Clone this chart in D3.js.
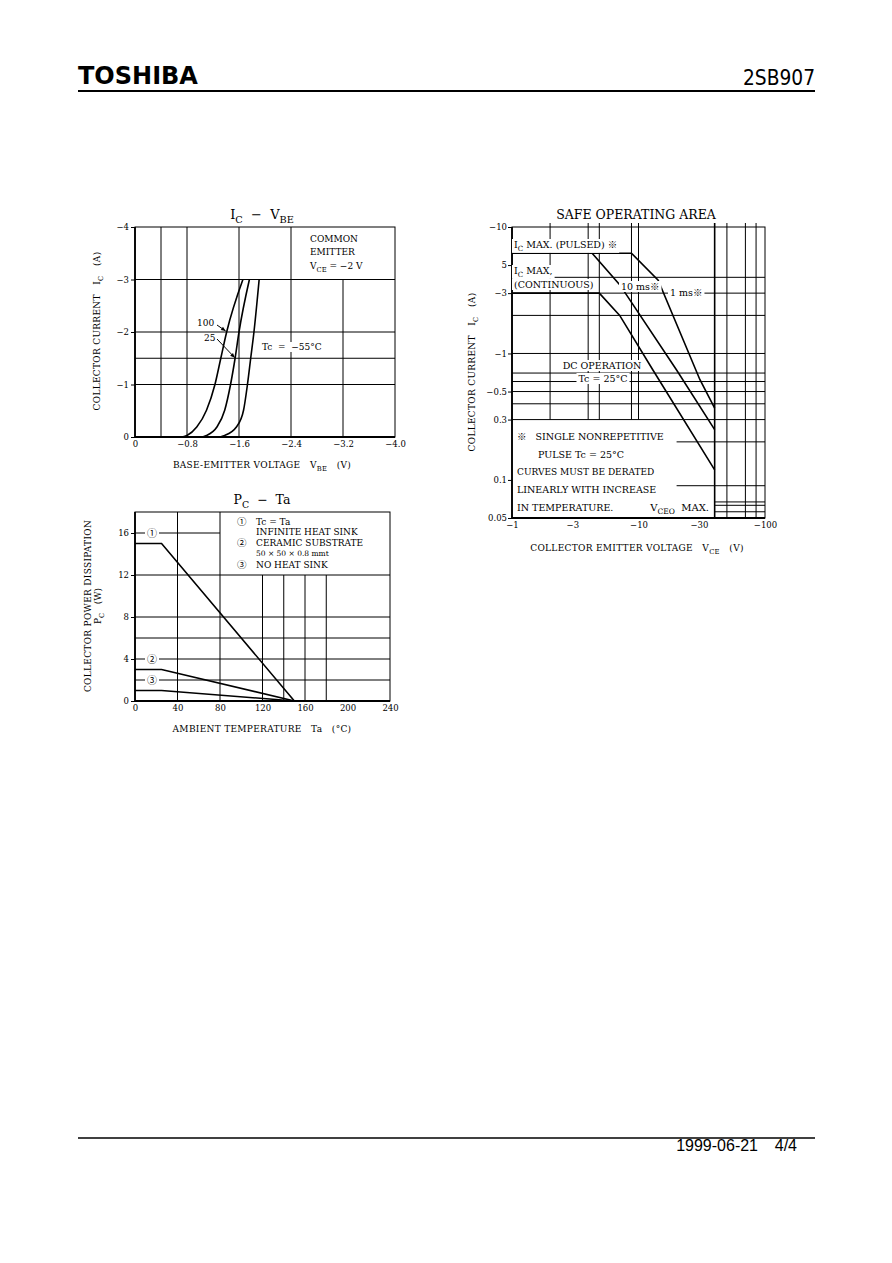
<!DOCTYPE html>
<html>
<head>
<meta charset="utf-8">
<script src="https://cdn.jsdelivr.net/npm/d3@7"></script>
<style>
  body { margin: 0; background: #fff; }
  svg text { font-family: "DejaVu Serif", "Liberation Serif", "Noto Sans CJK JP", serif; fill: #000; white-space: pre; }
  .grid line { stroke: #000; stroke-width: 1; }
  .axis path { display: none; }
  .axis line { stroke: #000; stroke-width: 1; }
  .axis text { font-size: 8.5px; }
  .curve { fill: none; stroke: #000; stroke-width: 1.6; }
</style>
</head>
<body>
<svg id="page" width="892" height="1263"></svg>
<script>
// ---- Ic - Vbe ----
const vbeTicks = [0, -0.8, -1.6, -2.4, -3.2, -4.0]
const vbeLabels = ['0', '−0.8', '−1.6', '−2.4', '−3.2', '−4.0']
const icTicks = [0, -1, -2, -3, -4]
const icLabels = ['0', '−1', '−2', '−3', '−4']
const vbeGrid = [-0.4, -0.8, -1.6, -2.4]
const vbeGridLow = [-3.2]
const icGrid = [-1, -1.5, -2, -3]
// [Vbe (V), Ic (A)]
const ic100 = [[0, 0], [-0.72, 0], [-0.80, -0.03], [-0.95, -0.19], [-1.10, -0.51], [-1.23, -1.0], [-1.32, -1.5], [-1.41, -2.0], [-1.66, -3.0]]
const ic25 = [[0, 0], [-1.0, 0], [-1.10, -0.03], [-1.26, -0.19], [-1.38, -0.51], [-1.47, -1.0], [-1.54, -1.5], [-1.60, -2.0], [-1.76, -3.0]]
const icM55 = [[0, 0], [-1.26, 0], [-1.38, -0.03], [-1.56, -0.19], [-1.67, -0.51], [-1.73, -1.0], [-1.78, -1.5], [-1.83, -2.0], [-1.91, -3.0]]

// ---- Pc - Ta ----
const taTicks = [0, 40, 80, 120, 160, 200, 240]
const pcTicks = [0, 4, 8, 12, 16]
const taGrid = [40, 80]
const taGridLow = [120, 140, 160, 180]
const pcGrid = [2, 4, 6, 8, 12]
const pcGridShort = [16]
// [Ta (°C), Pc (W)]
const pcInfinite = [[0, 15], [25, 15], [150, 0]]
const pcCeramic = [[0, 3], [25, 3], [150, 0]]
const pcNoSink = [[0, 1], [25, 1], [150, 0]]

// ---- Safe operating area ----
const vceTicks = [1, 3, 10, 30, 100]
const vceLabels = ['−1', '−3', '−10', '−30', '−100']
const icSoaTicks = [10, 5, 3, 1, 0.5, 0.3, 0.1, 0.05]
const icSoaLabels = ['−10', '5', '−3', '−1', '−0.5', '0.3', '0.1', '0.05']
const vceGridFull = [40, 50, 70, 85]
const vceGridUpper = [2, 4, 4.9, 8.8, 10]
const icSoaGridFull = [4, 3, 2, 1, 0.7, 0.6, 0.5, 0.4, 0.3]
const icSoaGridRight = [0.2, 0.09]
const icSoaGridCorner = [0.067, 0.063, 0.056]
// [|Vce| (V), |Ic| (A)]
const soa1ms = [[1, 6.2], [8.8, 6.2], [14.3, 3.8], [30.6, 0.62], [40, 0.37]]
const soa10ms = [[4.3, 6.2], [7.1, 3.5], [20, 0.74], [40, 0.25]]
const soaDC = [[1, 3], [4.9, 3], [7.1, 2.0], [13, 0.74], [40, 0.12]]

const svg = d3.select('#page')

// text with optional subscripts: parts = ['I', {sub: 'C'}, ' (A)']
function addText(g, x, y, parts, o = {}) {
  const size = o.size || 9
  const t = g.append('text')
    .attr('x', x).attr('y', y)
    .attr('font-size', size)
    .attr('text-anchor', o.anchor || 'start')
  if (o.ls) t.attr('letter-spacing', o.ls)
  let shift = 0
  parts.forEach(p => {
    const s = t.append('tspan')
    if (typeof p === 'string') {
      if (shift) s.attr('dy', -shift)
      s.text(p)
      shift = 0
    } else {
      const d = size * 0.3
      s.attr('dy', d - shift).attr('font-size', size * 0.75).text(p.sub)
      shift = d
    }
  })
  if (o.bg) {
    const b = t.node().getBBox()
    g.insert('rect', () => t.node())
      .attr('x', b.x - 2).attr('y', b.y)
      .attr('width', b.width + 4).attr('height', b.height)
      .attr('fill', '#fff')
  }
  return t
}

function frame(g, x0, x1, y0, y1) {
  g.append('rect').attr('x', x0).attr('y', y0).attr('width', x1 - x0).attr('height', y1 - y0)
    .attr('fill', 'none').attr('stroke', '#000').attr('stroke-width', 1)
  g.append('path').attr('d', `M${x0},${y0}V${y1}H${x1}`)
    .attr('fill', 'none').attr('stroke', '#000').attr('stroke-width', 1.8)
}

// ---------- header / footer ----------
svg.append('text').attr('x', 78).attr('y', 84)
  .style('font-family', '"DejaVu Sans", sans-serif').style('font-weight', 'bold')
  .attr('font-size', 24).text('TOSHIBA')
svg.append('text').attr('x', 743).attr('y', 85)
  .style('font-family', '"DejaVu Sans Condensed", "DejaVu Sans", sans-serif')
  .attr('font-size', 22).attr('textLength', 72).attr('lengthAdjust', 'spacingAndGlyphs').text('2SB907')
svg.append('line').attr('x1', 78).attr('x2', 815).attr('y1', 91).attr('y2', 91)
  .attr('stroke', '#000').attr('stroke-width', 2)
svg.append('line').attr('x1', 78).attr('x2', 815).attr('y1', 1138).attr('y2', 1138)
  .attr('stroke', '#000').attr('stroke-width', 1.5)
svg.append('text').attr('x', 758).attr('y', 1151).attr('text-anchor', 'end')
  .style('font-family', '"Liberation Sans", sans-serif').attr('font-size', 16).text('1999-06-21')
svg.append('text').attr('x', 797).attr('y', 1151).attr('text-anchor', 'end')
  .style('font-family', '"Liberation Sans", sans-serif').attr('font-size', 16).text('4/4')

// ---------- Ic - Vbe ----------
{
  const g = svg.append('g')
  const x = d3.scaleLinear().domain([0, -4]).range([135, 395])
  const y = d3.scaleLinear().domain([0, -4]).range([437, 227])
  const grid = g.append('g').attr('class', 'grid')
  grid.selectAll('.vx').data(vbeGrid).join('line')
    .attr('x1', d => x(d)).attr('x2', d => x(d)).attr('y1', y(-4)).attr('y2', y(0))
  grid.selectAll('.vl').data(vbeGridLow).join('line')
    .attr('x1', d => x(d)).attr('x2', d => x(d)).attr('y1', y(-3)).attr('y2', y(0))
  grid.selectAll('.hy').data(icGrid).join('line')
    .attr('x1', x(0)).attr('x2', x(-4)).attr('y1', d => y(d)).attr('y2', d => y(d))
  frame(g, x(0), x(-4), y(-4), y(0))

  g.append('g').attr('class', 'axis').attr('transform', `translate(${x(0)},0)`)
    .call(d3.axisLeft(y).tickValues(icTicks).tickSize(4).tickPadding(2).tickFormat((d, i) => icLabels[i]))
  g.append('g').attr('class', 'axis').attr('transform', `translate(0,${y(0)})`)
    .call(d3.axisBottom(x).tickValues(vbeTicks).tickSize(0).tickPadding(4).tickFormat((d, i) => vbeLabels[i]))

  const line = d3.line().x(d => x(d[0])).y(d => y(d[1])).curve(d3.curveMonotoneX)
  ;[ic100, ic25, icM55].forEach(s => g.append('path').attr('class', 'curve').attr('d', line(s)))

  addText(g, 262, 219, ['I', { sub: 'C' }, '  −  V', { sub: 'BE' }], { size: 13, anchor: 'middle' })
  addText(g, 310, 242, ['COMMON'], { size: 9 })
  addText(g, 310, 255, ['EMITTER'], { size: 9 })
  addText(g, 310, 269, ['V', { sub: 'CE' }, ' = −2 V'], { size: 9 })
  addText(g, 197, 326, ['100'], { size: 9, bg: true })
  addText(g, 204, 341, ['25'], { size: 9, bg: true })
  addText(g, 262, 350, ['Tc  =  −55°C'], { size: 9, bg: true })
  const arrow = (x1, y1, x2, y2) => {
    g.append('line').attr('x1', x1).attr('y1', y1).attr('x2', x2).attr('y2', y2)
      .attr('stroke', '#000').attr('stroke-width', 1)
    const a = Math.atan2(y2 - y1, x2 - x1)
    const p = [[x2, y2], [x2 - 5 * Math.cos(a - 0.4), y2 - 5 * Math.sin(a - 0.4)], [x2 - 5 * Math.cos(a + 0.4), y2 - 5 * Math.sin(a + 0.4)]]
    g.append('path').attr('d', 'M' + p.join('L') + 'Z').attr('fill', '#000')
  }
  arrow(217, 325, x(-1.41) - 1, y(-2.0) - 1)
  arrow(217, 339, x(-1.55) - 1, y(-1.55) + 2)

  addText(g, 262, 468, ['BASE-EMITTER VOLTAGE   V', { sub: 'BE' }, '   (V)'], { size: 9, anchor: 'middle', ls: 0.3 })
  addText(g.append('g').attr('transform', 'translate(100,331) rotate(-90)'), 0, 0,
    ['COLLECTOR CURRENT   I', { sub: 'C' }, '   (A)'], { size: 9, anchor: 'middle', ls: 0.3 })
}

// ---------- Pc - Ta ----------
{
  const g = svg.append('g')
  const x = d3.scaleLinear().domain([0, 240]).range([135, 390])
  const y = d3.scaleLinear().domain([0, 18]).range([701, 512])
  const grid = g.append('g').attr('class', 'grid')
  grid.selectAll('.vx').data(taGrid).join('line')
    .attr('x1', d => x(d)).attr('x2', d => x(d)).attr('y1', y(18)).attr('y2', y(0))
  grid.selectAll('.vl').data(taGridLow).join('line')
    .attr('x1', d => x(d)).attr('x2', d => x(d)).attr('y1', y(12)).attr('y2', y(0))
  grid.selectAll('.hy').data(pcGrid).join('line')
    .attr('x1', x(0)).attr('x2', x(240)).attr('y1', d => y(d)).attr('y2', d => y(d))
  grid.selectAll('.hs').data(pcGridShort).join('line')
    .attr('x1', x(0)).attr('x2', x(80)).attr('y1', d => y(d)).attr('y2', d => y(d))
  frame(g, x(0), x(240), y(18), y(0))

  g.append('g').attr('class', 'axis').attr('transform', `translate(${x(0)},0)`)
    .call(d3.axisLeft(y).tickValues(pcTicks).tickSize(4).tickPadding(2))
  g.append('g').attr('class', 'axis').attr('transform', `translate(0,${y(0)})`)
    .call(d3.axisBottom(x).tickValues(taTicks).tickSize(0).tickPadding(4))

  const line = d3.line().x(d => x(d[0])).y(d => y(d[1]))
  ;[pcInfinite, pcCeramic, pcNoSink].forEach(s => g.append('path').attr('class', 'curve').attr('d', line(s)))

  addText(g, 152, y(16) + 3.5, ['①'], { size: 10, anchor: 'middle', bg: true })
  addText(g, 152, y(4) + 3.5, ['②'], { size: 10, anchor: 'middle', bg: true })
  addText(g, 152, y(2) + 3.5, ['③'], { size: 10, anchor: 'middle', bg: true })

  addText(g, 237, 525, ['①'], { size: 9.5 })
  addText(g, 256, 525, ['Tc = Ta'], { size: 9 })
  addText(g, 256, 535, ['INFINITE HEAT SINK'], { size: 9 })
  addText(g, 237, 546, ['②'], { size: 9.5 })
  addText(g, 256, 546, ['CERAMIC SUBSTRATE'], { size: 9 })
  addText(g, 256, 556, ['50 × 50 × 0.8 mmt'], { size: 7.5 })
  addText(g, 237, 568, ['③'], { size: 9.5 })
  addText(g, 256, 568, ['NO HEAT SINK'], { size: 9 })

  addText(g, 262, 504, ['P', { sub: 'C' }, '  −  Ta'], { size: 12.5, anchor: 'middle' })
  addText(g, 262, 732, ['AMBIENT TEMPERATURE   Ta   (°C)'], { size: 9, anchor: 'middle', ls: 0.3 })
  const yt = g.append('g').attr('transform', 'translate(91,606) rotate(-90)')
  addText(yt, 0, 0, ['COLLECTOR POWER DISSIPATION'], { size: 9, anchor: 'middle', ls: 0.3 })
  addText(yt, 0, 10, ['P', { sub: 'C' }, '   (W)'], { size: 9, anchor: 'middle' })
}

// ---------- Safe operating area ----------
{
  const g = svg.append('g')
  const x = d3.scaleLog().domain([1, 100]).range([512, 765])
  const y = d3.scaleLog().domain([0.05, 10]).range([518, 227])
  const grid = g.append('g').attr('class', 'grid')
  grid.selectAll('.vf').data(vceGridFull).join('line')
    .attr('x1', d => x(d)).attr('x2', d => x(d)).attr('y1', y(10) - 4).attr('y2', y(0.05))
    .style('stroke-width', d => d === 40 ? 1.6 : 1)
  grid.selectAll('.vu').data(vceGridUpper).join('line')
    .attr('x1', d => x(d)).attr('x2', d => x(d)).attr('y1', y(10) - 4).attr('y2', y(0.3))
  grid.selectAll('.hf').data(icSoaGridFull).join('line')
    .attr('x1', x(1)).attr('x2', x(100)).attr('y1', d => y(d)).attr('y2', d => y(d))
  grid.selectAll('.hr').data(icSoaGridRight).join('line')
    .attr('x1', x(20)).attr('x2', x(100)).attr('y1', d => y(d)).attr('y2', d => y(d))
  grid.selectAll('.hc').data(icSoaGridCorner).join('line')
    .attr('x1', x(40)).attr('x2', x(100)).attr('y1', d => y(d)).attr('y2', d => y(d))
  frame(g, x(1), x(100), y(10), y(0.05))

  g.append('g').attr('class', 'axis').attr('transform', `translate(${x(1)},0)`)
    .call(d3.axisLeft(y).tickValues(icSoaTicks).tickSize(4).tickPadding(1).tickFormat((d, i) => icSoaLabels[i]))
  g.append('g').attr('class', 'axis').attr('transform', `translate(0,${y(0.05)})`)
    .call(d3.axisBottom(x).tickValues(vceTicks).tickSize(0).tickPadding(4).tickFormat((d, i) => vceLabels[i]))

  const line = d3.line().x(d => x(d[0])).y(d => y(d[1]))
  ;[soa1ms, soa10ms, soaDC].forEach(s => g.append('path').attr('class', 'curve').attr('d', line(s)))

  addText(g, 514, 248, ['I', { sub: 'C' }, ' MAX. (PULSED) ※'], { size: 9.5, bg: true })
  addText(g, 514, 274, ['I', { sub: 'C' }, ' MAX,'], { size: 9.5, bg: true })
  addText(g, 514, 288, ['(CONTINUOUS)'], { size: 9.5, bg: true })
  addText(g, 621, 290, ['10 ms※'], { size: 9.5, bg: true })
  addText(g, 670, 296, ['1 ms※'], { size: 9.5, bg: true })
  addText(g, 602, 369, ['DC OPERATION'], { size: 9.5, anchor: 'middle', bg: true })
  addText(g, 603, 382, ['Tc = 25°C'], { size: 9.5, anchor: 'middle', bg: true })

  addText(g, 517, 440, ['※   SINGLE NONREPETITIVE'], { size: 9.5 })
  addText(g, 538, 458, ['PULSE Tc = 25°C'], { size: 9.5 })
  addText(g, 517, 475, ['CURVES MUST BE DERATED'], { size: 9 })
  addText(g, 517, 493, ['LINEARLY WITH INCREASE'], { size: 9.5 })
  addText(g, 517, 511, ['IN TEMPERATURE.'], { size: 9.5 })
  addText(g, 709, 511, ['V', { sub: 'CEO' }, '  MAX.'], { size: 10, anchor: 'end' })

  addText(g, 636, 219, ['SAFE OPERATING AREA'], { size: 12.5, anchor: 'middle' })
  addText(g, 637, 551, ['COLLECTOR EMITTER VOLTAGE   V', { sub: 'CE' }, '   (V)'], { size: 9, anchor: 'middle', ls: 0.3 })
  addText(g.append('g').attr('transform', 'translate(475,372) rotate(-90)'), 0, 0,
    ['COLLECTOR CURRENT   I', { sub: 'C' }, '   (A)'], { size: 9, anchor: 'middle', ls: 0.3 })
}
</script>
</body>
</html>
